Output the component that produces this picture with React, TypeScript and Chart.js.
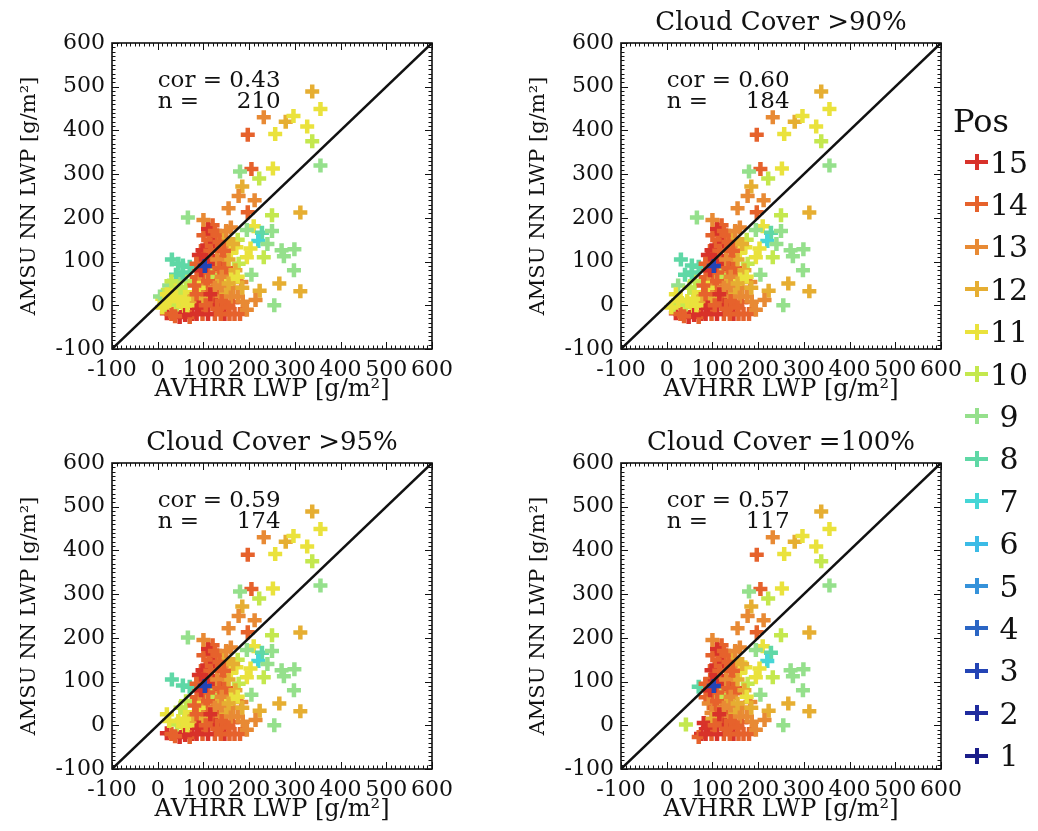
import React, { useEffect, useRef } from 'react';
import { Chart, registerables } from 'chart.js';

Chart.register(...registerables);

// ---------------- data ----------------
const avhrrLwp = [
  338, 356, 232, 197, 257, 280, 297, 327, 338, 356,
  205, 180, 222, 252, 185, 177, 212, 155, 197, 250,
  312, 210, 160, 228, 220, 195, 175, 172, 203, 232,
  271, 299, 276, 298, 205, 195, 177, 266, 312, 223,
  255, 186, 214, 183, 165, 150, 240, 250, 120,
  118, 112, 125, 105, 98, 130, 140, 118, 95, 140,
  114, 150, 128, 85, 100, 92, 120, 105, 135, 98,
  135, 120, 150, 81, 110, 148, 164, 127, 75, 98,
  125, 146, 168, 110, 138, 157, 148, 130, 108, 145,
  160, 125, 160, 170, 155, 119, 90, 100, 90, 31,
  55, 70, 42, 22, 33, 55, 48, 76, 20, 48,
  70, 66, 42, 10, 15, 60, 35, 25, 62, 70,
  5, 50, 30, 40, 45, 25, 58,
  100, 110, 125, 135, 115, 90, 100, 130, 145, 85,
  110, 95, 135, 80, 110, 125, 140, 85, 115, 140,
  160, 175, 90, 105, 130, 155, 85, 180, 60, 38,
  100, 150, 165, 140, 155, 175, 185, 195,
  20, 38, 50, 15, 65, 30, 10, 55, 45,
  103,
];
const amsuNnLwp = [
  489, 449, 430, 390, 392, 420, 433, 409, 375, 320,
  312, 306, 290, 313, 272, 250, 240, 222, 213, 206,
  212, 181, 178, 166, 147, 172, 150, 133, 130, 110,
  126, 128, 112, 80, 70, 110, 95, 50, 32, 33,
  0, 8, 12, 53, 40, 73, 140, 170, 183,
  165, 150, 140, 135, 126, 126, 110, 112, 105, 96,
  87, 85, 75, 64, 70, 50, 53, 40, 55, 28,
  19, 30, 30, 5, 10, 5, 7, 0, -20, -20,
  -20, -20, -20, -20, -20, -20, 135, 160, 115, 150,
  120, 95, 60, 80, 105, 68, 85, 15, 40, 105,
  91, 88, 42, 35, 5, -4, 19, 19, -18, -27,
  -27, 201, 2, 15, 0, 30, 25, 45, 55, 10,
  20, 60, -20, 70, 10, 10, 15,
  160, 175, 170, 145, 125, 115, 100, 105, 125, 95,
  75, 80, 85, 45, 55, 40, 45, 25, 25, 10,
  20, 20, -5, 0, -8, -5, -20, -20, -22, -25,
  195, 170, 140, 65, 50, 65, 40, -10,
  25, 35, 40, 5, 0, 55, -5, 75, 95,
  90,
];
// scan position (1..15)
const scanPos = [
  12, 11, 13, 14, 11, 12, 11, 11, 10, 9,
  14, 9, 10, 11, 12, 13, 13, 13, 14, 10,
  12, 11, 13, 8, 7, 9, 10, 11, 11, 10,
  9, 9, 9, 9, 9, 11, 10, 12, 12, 12,
  9, 13, 13, 13, 13, 14, 9, 9, 14,
  15, 14, 15, 14, 15, 14, 14, 15, 14, 14,
  14, 14, 13, 14, 14, 13, 13, 14, 12, 13,
  13, 14, 12, 15, 14, 14, 14, 15, 15, 14,
  14, 15, 14, 15, 14, 14, 13, 14, 15, 12,
  11, 15, 11, 12, 12, 10, 14, 12, 11, 8,
  8, 8, 9, 10, 11, 11, 11, 12, 15, 15,
  14, 9, 10, 11, 10, 11, 11, 9, 10, 12,
  9, 9, 14, 8, 11, 11, 11,
  14, 15, 14, 14, 14, 15, 15, 13, 14, 14,
  14, 15, 14, 14, 14, 13, 13, 14, 15, 14,
  13, 13, 15, 14, 14, 14, 15, 14, 15, 14,
  13, 13, 12, 13, 12, 11, 12, 13,
  11, 11, 10, 11, 11, 10, 11, 8, 8,
  3,
];
// cloud cover class: 0 = <=90%, 1 = >90%, 2 = >95%, 3 = 100%
const cloudClass = [
  3, 3, 3, 3, 3, 3, 3, 3, 3, 3,
  3, 3, 3, 3, 3, 3, 3, 3, 3, 3,
  3, 3, 3, 3, 3, 3, 2, 3, 3, 3,
  3, 3, 3, 3, 3, 3, 3, 3, 3, 3,
  3, 3, 3, 3, 3, 3, 2, 2, 3,
  3, 3, 3, 3, 3, 3, 3, 3, 3, 3,
  3, 3, 3, 3, 3, 3, 3, 3, 3, 3,
  3, 3, 3, 3, 3, 3, 3, 3, 3, 3,
  3, 3, 3, 3, 3, 3, 3, 3, 3, 3,
  3, 3, 2, 3, 3, 3, 3, 3, 2, 2,
  2, 3, 0, 0, 1, 2, 0, 2, 2, 2,
  3, 2, 3, 0, 1, 2, 0, 1, 2, 2,
  0, 0, 2, 1, 2, 2, 2,
  3, 3, 3, 3, 3, 2, 3, 3, 3, 3,
  3, 3, 3, 2, 3, 3, 3, 2, 3, 3,
  3, 3, 3, 3, 3, 3, 3, 3, 2, 2,
  3, 3, 3, 3, 3, 3, 3, 3,
  2, 0, 2, 0, 2, 0, 1, 1, 0,
  3,
];

const panelTitles = ['', 'Cloud Cover >90%', 'Cloud Cover >95%', 'Cloud Cover =100%'];
const panelCor = ['0.43', '0.60', '0.59', '0.57'];
const panelN = ['210', '184', '174', '117'];
const panelMinClass = [0, 1, 2, 3];

const axisMin = -100;
const axisMax = 600;
const axisStep = 100;
const minorStep = 10;
const diagonal = [-100, 600];

const legendPos = [15, 14, 13, 12, 11, 10, 9, 8, 7, 6, 5, 4, 3, 2, 1];
const posColors = [
  '#1b1e8a', '#1f2b9e', '#2344b5', '#2a65c4', '#3592da',
  '#3bbbe6', '#45d6d6', '#5fd8a6', '#95e08c', '#c4e84e',
  '#eae23c', '#e6ae32', '#e88a34', '#e6622c', '#d8322a',
];

// ---------------- layout ----------------
const W = 1038;
const H = 831;
const PW = 320;
const PH = 306;
const YW = 100;
const XH = 60;
const FONT = "'DejaVu Serif', serif";
const panelBoxes = [
  { left: 112, top: 43 },
  { left: 621, top: 43 },
  { left: 112, top: 463 },
  { left: 621, top: 463 },
];

const framePlugin = {
  id: 'idlFrame',
  afterDatasetsDraw(chart: any, _args: any, opts: any) {
    const { ctx, chartArea: a, scales } = chart;
    const xs = scales.x;
    const ys = scales.y;
    ctx.save();
    ctx.strokeStyle = '#111';
    ctx.lineWidth = 1;
    ctx.beginPath();
    for (let v = axisMin; v <= axisMax; v += minorStep) {
      const major = v % axisStep === 0;
      const len = major ? 7 : 3.5;
      const px = Math.round(xs.getPixelForValue(v)) + 0.5;
      ctx.moveTo(px, a.bottom);
      ctx.lineTo(px, a.bottom - len);
      ctx.moveTo(px, a.top);
      ctx.lineTo(px, a.top + len);
      const py = Math.round(ys.getPixelForValue(v)) + 0.5;
      ctx.moveTo(a.left, py);
      ctx.lineTo(a.left + len, py);
      ctx.moveTo(a.right, py);
      ctx.lineTo(a.right - len, py);
    }
    ctx.stroke();
    ctx.lineWidth = 1.6;
    ctx.strokeRect(a.left, a.top, a.right - a.left, a.bottom - a.top);

    // statistics text
    ctx.fillStyle = '#111';
    ctx.font = `23px ${FONT}`;
    ctx.textBaseline = 'middle';
    ctx.textAlign = 'left';
    const x0 = xs.getPixelForValue(0);
    const line1 = `cor = ${opts.cor}`;
    const w1 = ctx.measureText(line1).width;
    ctx.fillText(line1, x0, ys.getPixelForValue(513));
    ctx.fillText('n =', x0, ys.getPixelForValue(465));
    ctx.textAlign = 'right';
    ctx.fillText(opts.n, x0 + w1, ys.getPixelForValue(465));
    ctx.restore();
  },
};

function buildConfig(i: number): any {
  const box = panelBoxes[i];
  const hasTitle = panelTitles[i] !== '';
  const titleFont = 26;
  const titlePadBottom = 4;
  const titleH = hasTitle ? titleFont * 1.2 + titlePadBottom : 0;
  const pts: any[] = [];
  const cols: string[] = [];
  for (let k = 0; k < avhrrLwp.length; k++) {
    if (cloudClass[k] >= panelMinClass[i]) {
      pts.push({ x: avhrrLwp[k], y: amsuNnLwp[k] });
      cols.push(posColors[scanPos[k] - 1]);
    }
  }
  const tickFont = { family: FONT, size: 22 };
  return {
    type: 'scatter',
    data: {
      datasets: [
        {
          data: [
            { x: diagonal[0], y: diagonal[0] },
            { x: diagonal[1], y: diagonal[1] },
          ],
          showLine: true,
          borderColor: '#111',
          borderWidth: 2.5,
          pointRadius: 0,
          order: 0,
        },
        {
          data: pts,
          pointStyle: 'cross',
          pointRadius: 7,
          pointBorderWidth: 4.5,
          pointBorderColor: cols,
          pointBackgroundColor: cols,
          showLine: false,
          order: 1,
        },
      ],
    },
    options: {
      responsive: false,
      animation: false,
      events: [],
      devicePixelRatio: 1,
      layout: {
        padding: {
          left: box.left - YW,
          top: box.top - titleH,
          right: W - box.left - PW,
          bottom: H - box.top - PH - XH,
        },
      },
      plugins: {
        legend: { display: false },
        tooltip: { enabled: false },
        title: {
          display: hasTitle,
          text: panelTitles[i],
          color: '#111',
          fullSize: false,
          font: { family: FONT, size: titleFont, weight: 'normal', lineHeight: 1.2 },
          padding: { top: 0, bottom: titlePadBottom },
        },
        idlFrame: { cor: panelCor[i], n: panelN[i] },
      },
      scales: {
        x: {
          type: 'linear',
          min: axisMin,
          max: axisMax,
          grid: { display: false, drawTicks: false },
          border: { display: false },
          ticks: {
            stepSize: axisStep,
            autoSkip: false,
            maxRotation: 0,
            padding: 8,
            color: '#111',
            font: tickFont,
          },
          title: {
            display: true,
            text: 'AVHRR LWP [g/m²]',
            color: '#111',
            font: { family: FONT, size: 24, lineHeight: 1.2 },
            padding: { top: 0, bottom: 5 },
          },
          afterFit(scale: any) {
            scale.height = XH;
          },
        },
        y: {
          type: 'linear',
          min: axisMin,
          max: axisMax,
          grid: { display: false, drawTicks: false },
          border: { display: false },
          ticks: {
            stepSize: axisStep,
            autoSkip: false,
            padding: 7,
            color: '#111',
            font: tickFont,
          },
          title: {
            display: true,
            text: 'AMSU NN LWP [g/m²]',
            color: '#111',
            font: { family: FONT, size: 21, lineHeight: 1.2 },
            padding: { top: 5, bottom: 0 },
          },
          afterFit(scale: any) {
            scale.width = YW;
          },
        },
      },
    },
    plugins: [framePlugin],
  };
}

function Panel({ index }: { index: number }) {
  const ref = useRef<HTMLCanvasElement>(null);
  useEffect(() => {
    const chart = new Chart(ref.current as HTMLCanvasElement, buildConfig(index));
    return () => chart.destroy();
  }, [index]);
  return (
    <canvas
      ref={ref}
      width={W}
      height={H}
      style={{ position: 'absolute', left: 0, top: 0, width: W, height: H }}
    />
  );
}

const LEG_TOP = 162;
const LEG_STEP = 42.4;

function Legend() {
  return (
    <div style={{ position: 'absolute', left: 0, top: 0, width: W, height: H, pointerEvents: 'none' }}>
      <div
        style={{
          position: 'absolute',
          left: 953,
          top: 120 - 15.4,
          font: `32px ${FONT}`,
          lineHeight: '32px',
          color: '#111',
        }}
      >
        Pos
      </div>
      {legendPos.map((p, j) => {
        const cy = LEG_TOP + j * LEG_STEP;
        const c = posColors[p - 1];
        return (
          <React.Fragment key={p}>
            <div style={{ position: 'absolute', left: 965, top: cy - 2, width: 23, height: 4, background: c }} />
            <div style={{ position: 'absolute', left: 974.5, top: cy - 8, width: 4, height: 16, background: c }} />
            <div
              style={{
                position: 'absolute',
                left: 990,
                top: cy - 14.4,
                font: `30px ${FONT}`,
                lineHeight: '30px',
                whiteSpace: 'pre',
                color: '#111',
              }}
            >
              {String(p).padStart(2, ' ')}
            </div>
          </React.Fragment>
        );
      })}
    </div>
  );
}

export default function App() {
  return (
    <div
      style={{
        position: 'absolute',
        left: 0,
        top: 0,
        width: W,
        height: H,
        background: '#fff',
        overflow: 'hidden',
      }}
    >
      {[0, 1, 2, 3].map((i) => (
        <Panel key={i} index={i} />
      ))}
      <Legend />
    </div>
  );
}
